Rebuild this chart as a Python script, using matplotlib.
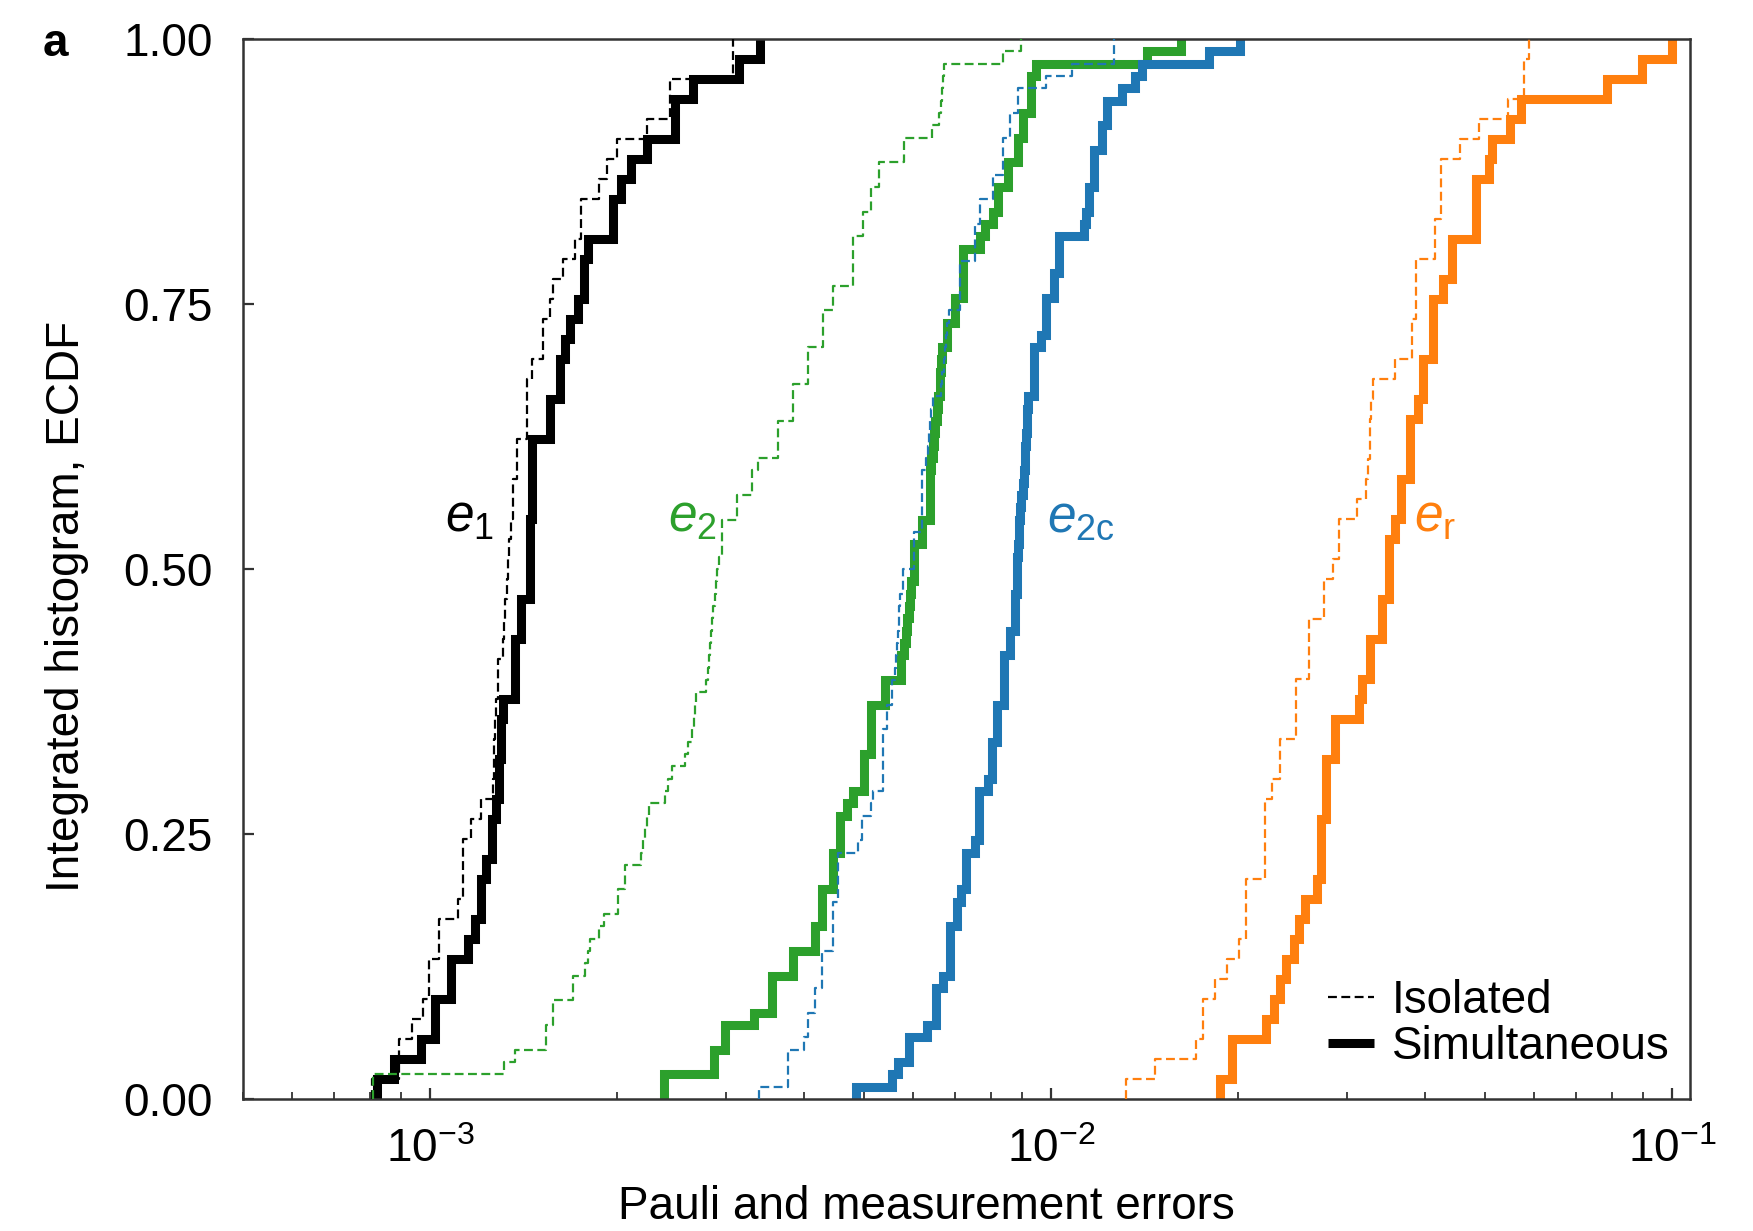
import numpy as np
import matplotlib
matplotlib.use("Agg")
import matplotlib.pyplot as plt
from matplotlib.lines import Line2D

plt.rcParams['font.family'] = ['Liberation Sans', 'DejaVu Sans']
plt.rcParams['mathtext.fontset'] = 'custom'
plt.rcParams['mathtext.rm'] = 'Liberation Sans'
plt.rcParams['mathtext.it'] = 'Liberation Sans:italic'
plt.rcParams['mathtext.bf'] = 'Liberation Sans:bold'

# sorted error values read off the ECDF steps
# e1 (single-qubit Pauli error), units of 1e-3, 53 qubits
e1_iso = [0.808, 0.892, 0.892, 0.937, 0.973, 0.998, 0.998, 1.035, 1.035, 1.109,
          1.129, 1.129, 1.129, 1.164, 1.209, 1.265, 1.27, 1.27, 1.275, 1.28,
          1.286, 1.286, 1.31, 1.315, 1.32, 1.33, 1.336, 1.34, 1.35, 1.36,
          1.36, 1.38, 1.38, 1.435, 1.435, 1.435, 1.46, 1.52, 1.52, 1.56,
          1.58, 1.64, 1.71, 1.75, 1.75, 1.87, 1.93, 2.00, 2.24, 2.44,
          2.44, 3.08, 3.08]
e1_sim = [0.823, 0.876, 0.967, 1.02, 1.02, 1.08, 1.08, 1.15, 1.18, 1.21,
          1.21, 1.23, 1.26, 1.26, 1.28, 1.29, 1.29, 1.30, 1.30, 1.31,
          1.37, 1.37, 1.37, 1.40, 1.40, 1.45, 1.45, 1.45, 1.45, 1.46,
          1.46, 1.46, 1.46, 1.56, 1.56, 1.62, 1.62, 1.65, 1.68, 1.73,
          1.77, 1.77, 1.80, 1.97, 1.97, 2.03, 2.11, 2.24, 2.48, 2.48,
          2.65, 3.15, 3.40]

# e2 (two-qubit Pauli error), units of 1e-3, 86 couplers
e2_iso = [0.81, 0.81, 1.318, 1.369, 1.54, 1.54, 1.578, 1.578, 1.70, 1.70,
          1.78, 1.80, 1.81, 1.87, 1.91, 2.01, 2.01, 2.06, 2.06, 2.19,
          2.20, 2.22, 2.24, 2.25, 2.39, 2.42, 2.455, 2.58, 2.60, 2.64,
          2.66, 2.67, 2.68, 2.78, 2.80, 2.82, 2.83, 2.84, 2.85, 2.86,
          2.88, 2.89, 2.90, 2.92, 2.95, 2.95, 2.95, 3.12, 3.12, 3.30,
          3.30, 3.37, 3.63, 3.63, 3.63, 3.84, 3.84, 3.84, 4.06, 4.06,
          4.06, 4.30, 4.30, 4.30, 4.46, 4.46, 4.81, 4.81, 4.81, 4.81,
          4.99, 4.99, 5.14, 5.14, 5.29, 5.29, 5.81, 5.81, 6.44, 6.60,
          6.65, 6.69, 6.70, 6.72, 8.38, 8.94]
e2_sim = [2.38, 2.38, 2.87, 2.87, 2.99, 2.99, 3.33, 3.56, 3.56, 3.56,
          3.84, 3.84, 4.17, 4.17, 4.28, 4.28, 4.28, 4.46, 4.46, 4.46,
          4.57, 4.57, 4.57, 4.69, 4.81, 5.01, 5.01, 5.01, 5.14, 5.14,
          5.14, 5.14, 5.40, 5.40, 5.73, 5.73, 5.80, 5.84, 5.87, 5.90,
          5.93, 5.96, 6.02, 6.02, 6.02, 6.20, 6.20, 6.38, 6.38, 6.38,
          6.38, 6.42, 6.45, 6.48, 6.51, 6.55, 6.58, 6.62, 6.64, 6.66,
          6.68, 6.81, 6.81, 7.00, 7.00, 7.21, 7.21, 7.21, 7.21, 7.70,
          7.84, 8.06, 8.22, 8.22, 8.54, 8.54, 8.86, 8.86, 9.03, 9.03,
          9.29, 9.29, 9.29, 9.46, 14.3, 16.2]

# e2c (two-qubit cycle error), units of 1e-3, 86 couplers
e2c_iso = [3.39, 3.78, 3.78, 3.78, 4.00, 4.07, 4.07, 4.17, 4.17, 4.28,
           4.28, 4.28, 4.46, 4.46, 4.46, 4.46, 4.54, 4.54, 4.54, 4.54,
           4.89, 4.97, 4.97, 5.14, 5.18, 5.36, 5.36, 5.36, 5.36, 5.36,
           5.45, 5.45, 5.54, 5.54, 5.62, 5.64, 5.66, 5.68, 5.69, 5.70,
           5.72, 5.77, 5.77, 6.03, 6.03, 6.03, 6.20, 6.20, 6.20, 6.20,
           6.20, 6.30, 6.33, 6.36, 6.38, 6.41, 6.45, 6.65, 6.68, 6.72,
           6.75, 6.78, 6.81, 6.85, 7.14, 7.14, 7.14, 7.14, 7.55, 7.55,
           7.55, 7.70, 7.70, 8.06, 8.06, 8.38, 8.38, 8.38, 8.61, 8.61,
           8.86, 8.86, 9.82, 10.8, 12.65, 12.65]
e2c_sim = [4.85, 5.54, 5.68, 5.92, 5.92, 6.32, 6.54, 6.54, 6.54, 6.71,
           6.88, 6.88, 6.88, 6.88, 7.05, 7.05, 7.17, 7.29, 7.29, 7.29,
           7.54, 7.66, 7.66, 7.66, 7.66, 7.92, 8.05, 8.05, 8.05, 8.19,
           8.19, 8.19, 8.39, 8.39, 8.39, 8.39, 8.61, 8.61, 8.75, 8.75,
           8.75, 8.82, 8.82, 8.82, 8.86, 8.88, 8.90, 8.92, 8.94, 9.02,
           9.05, 9.08, 9.10, 9.12, 9.14, 9.17, 9.20, 9.38, 9.38, 9.38,
           9.38, 9.65, 9.82, 9.82, 9.82, 10.1, 10.1, 10.3, 10.3, 10.3,
           11.3, 11.4, 11.5, 11.5, 11.75, 11.75, 11.75, 12.1, 12.1, 12.3,
           12.3, 13.0, 13.65, 14.0, 18.0, 20.2]

# er (readout error), units of 1e-2, 53 qubits
er_iso = [1.32, 1.47, 1.71, 1.76, 1.76, 1.84, 1.92, 2.01, 2.06, 2.06,
          2.06, 2.21, 2.21, 2.21, 2.21, 2.27, 2.34, 2.34, 2.48, 2.48,
          2.48, 2.60, 2.60, 2.60, 2.75, 2.75, 2.85, 2.91, 2.91, 3.11,
          3.22, 3.24, 3.26, 3.26, 3.28, 3.30, 3.58, 3.82, 3.82, 3.87,
          3.87, 3.87, 4.16, 4.16, 4.25, 4.25, 4.25, 4.56, 4.90, 5.45,
          5.77, 5.77, 5.89]
er_sim = [1.875, 1.96, 1.96, 2.22, 2.29, 2.34, 2.39, 2.46, 2.51, 2.57,
          2.68, 2.72, 2.72, 2.72, 2.77, 2.77, 2.77, 2.87, 2.87, 3.13,
          3.17, 3.26, 3.26, 3.41, 3.41, 3.50, 3.50, 3.50, 3.58, 3.66,
          3.66, 3.79, 3.79, 3.79, 3.90, 3.98, 3.98, 4.13, 4.13, 4.13,
          4.28, 4.43, 4.43, 4.83, 4.83, 4.83, 5.07, 5.14, 5.48, 5.72,
          7.87, 8.95, 10.0]

series = [
    ("e1", e1_iso, e1_sim, 1e-3, "black"),
    ("e2", e2_iso, e2_sim, 1e-3, "#2ca02c"),
    ("e2c", e2c_iso, e2c_sim, 1e-3, "#1f77b4"),
    ("er", er_iso, er_sim, 1e-2, "#ff7f0e"),
]
labels = [r"$e_{\mathrm{1}}$", r"$e_{\mathrm{2}}$", r"$e_{\mathrm{2c}}$", r"$e_{\mathrm{r}}$"]
label_x = [1.056e-3, 2.42e-3, 9.84e-3, 3.85e-2]
label_y = 0.535


def ecdf(vals, unit):
    x = np.sort(np.asarray(vals) * unit)
    y = np.arange(1, len(x) + 1) / len(x)
    return np.r_[x[0], x], np.r_[0.0, y]


fig = plt.figure(figsize=(17.53, 12.31), dpi=100)
ax = fig.add_axes([0.1386, 0.1072, 0.8255, 0.8611])

# simultaneous: thick, isolated: thin dashed on top
for name, iso, sim, unit, col in series:
    x, y = ecdf(sim, unit)
    ax.step(x, y, where='post', color=col, lw=6.5, solid_joinstyle='miter',
            solid_capstyle='butt', zorder=2)
for name, iso, sim, unit, col in series:
    x, y = ecdf(iso, unit)
    ax.step(x, y, where='post', color=col, lw=1.6, dashes=(4, 2), zorder=3)

for (name, iso, sim, unit, col), lab, lx in zip(series, labels, label_x):
    ax.text(lx, label_y, lab, color=col, fontsize=37, ha='left', va='baseline')

ax.set_xscale('log')
ax.set_xlim(5e-4, 0.107)
ax.set_ylim(0, 1)
ax.set_yticks([0, 0.25, 0.5, 0.75, 1.0])
ax.set_yticklabels(["0.00", "0.25", "0.50", "0.75", "1.00"])

for sp in ax.spines.values():
    sp.set_linewidth(1.8)
    sp.set_color('#333333')
ax.tick_params(axis='both', which='both', direction='in', top=False, right=False,
               color='#333333')
ax.tick_params(axis='x', which='major', length=8, width=1.6, pad=21, labelsize=33)
ax.tick_params(axis='x', which='minor', length=5, width=1.3)
ax.tick_params(axis='y', which='major', length=8, width=1.6, pad=22, labelsize=33)

ax.set_xlabel("Pauli and measurement errors", fontsize=33)
ax.set_ylabel("Integrated histogram, ECDF", fontsize=33)
ax.xaxis.label.set_va('center')
ax.yaxis.label.set_va('center')
ax.xaxis.set_label_coords(0.472, -0.102)
ax.yaxis.set_label_coords(-0.1216, 0.465)

handles = [Line2D([], [], color='black', lw=1.6, dashes=(4, 2)),
           Line2D([], [], color='black', lw=6.5, solid_capstyle='butt')]
ax.legend(handles, ["Isolated", "Simultaneous"], loc='lower right',
          bbox_to_anchor=(0.986, 0.028), frameon=False, fontsize=33,
          handlelength=1.0, handletextpad=0.4, labelspacing=0.05,
          borderpad=0, borderaxespad=0)

fig.text(0.0245, 0.9545, "a", fontsize=33, fontweight='bold', va='baseline')

fig.savefig("out.png", dpi=100)
